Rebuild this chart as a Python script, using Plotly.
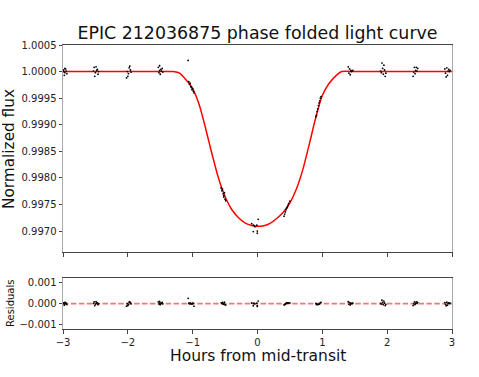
import plotly.graph_objects as go

# ---- data ----
time_h = [
    -2.99, -2.97, -2.96, -2.98, -2.95, -2.97, -2.94, -2.99,
    -2.52, -2.49, -2.47, -2.53, -2.50, -2.46, -2.51, -2.48, -2.45,
    -2.02, -2.00, -1.98, -1.96, -2.01, -1.99, -1.97, -1.95,
    -1.53, -1.51, -1.49, -1.47, -1.52, -1.50, -1.48, -1.46, -1.51,
    -1.07, -1.06, -1.05, -1.04, -1.03, -1.02, -1.01, -0.99, -0.98, -1.00,
    -0.56, -0.55, -0.54, -0.53, -0.52, -0.51, -0.50, -0.49, -0.52,
    -0.09, -0.065, -0.04, -0.01, -0.003, -0.065, -0.003, 0.01, -0.05,
    0.41, 0.42, 0.43, 0.44, 0.45, 0.46, 0.47, 0.48, 0.50,
    0.90, 0.91, 0.92, 0.93, 0.94, 0.95, 0.96, 0.97, 0.98,
    1.40, 1.42, 1.44, 1.46, 1.43, 1.45, 1.47, 1.41,
    1.92, 1.95, 1.93, 1.96, 1.91, 1.94, 1.97, 1.90, 1.98,
    2.42, 2.45, 2.47, 2.44, 2.41, 2.43, 2.40, 2.46,
    2.89, 2.92, 2.95, 2.97, 2.90, 2.93, 2.91, 2.96, 2.94,
]
flux = [
    1.00003, 0.99998, 1.00005, 0.99993, 1.00001, 1.00006, 0.99996, 1.00000,
    1.00008, 1.00009, 1.00004, 1.00001, 0.99998, 0.99995, 0.99991, 1.00002, 1.00000,
    0.99988, 0.99991, 1.00007, 1.00003, 1.00000, 0.99996, 1.00010, 0.99999,
    1.00008, 1.00011, 1.00004, 1.00006, 0.99998, 0.99995, 1.00001, 0.99999, 1.00002,
    1.00021, 0.99981, 0.99976, 0.99978, 0.99972, 0.99970, 0.99966, 0.99963, 0.99960, 0.99968,
    0.99781, 0.99776, 0.99779, 0.99770, 0.99767, 0.99772, 0.99760, 0.99757, 0.99764,
    0.99714, 0.99711, 0.99708, 0.99711, 0.99700, 0.99699, 0.99696, 0.99722, 0.99710,
    0.99728, 0.99732, 0.99736, 0.99740, 0.99743, 0.99745, 0.99748, 0.99752, 0.99756,
    0.99915, 0.99918, 0.99925, 0.99930, 0.99936, 0.99941, 0.99945, 0.99950, 0.99953,
    1.00009, 1.00005, 1.00002, 1.00001, 0.99994, 1.00000, 1.00002, 0.99997,
    1.00016, 1.00012, 1.00006, 1.00003, 0.99998, 0.99995, 0.99991, 1.00001, 0.99997,
    1.00008, 1.00008, 1.00006, 1.00002, 0.99999, 0.99996, 0.99991, 1.00001,
    1.00005, 1.00007, 1.00004, 1.00002, 0.99997, 0.99993, 0.99990, 1.00000, 1.00001,
]
residuals = [
    0.00003, -0.00002, 0.00005, -0.00007, 0.00001, 0.00006, -0.00004, 0.00000,
    0.00008, 0.00009, 0.00004, 0.00001, -0.00002, -0.00005, -0.00009, 0.00002, 0.00000,
    -0.00012, -0.00009, 0.00007, 0.00003, 0.00000, -0.00004, 0.00010, -0.00001,
    0.00008, 0.00011, 0.00004, 0.00006, -0.00002, -0.00005, 0.00001, -0.00001, 0.00002,
    0.00025, 0.00002, -0.00001, 0.00003, 0.00000, 0.00000, -0.00002, 0.00001, -0.00012, 0.00002,
    0.00004, 0.00001, 0.00006, -0.00002, 0.00000, 0.00007, -0.00005, -0.00006, -0.00003,
    0.00003, 0.00001, -0.00001, 0.00002, -0.00009, -0.00010, -0.00013, 0.00012, 0.00001,
    -0.00006, -0.00004, -0.00002, 0.00001, 0.00003, 0.00002, 0.00003, 0.00004, 0.00003,
    0.00001, -0.00004, -0.00003, -0.00004, -0.00003, -0.00002, 0.00001, 0.00005, 0.00006,
    0.00009, 0.00005, 0.00002, 0.00001, -0.00006, 0.00000, 0.00002, -0.00003,
    0.00016, 0.00012, 0.00006, 0.00003, -0.00002, -0.00005, -0.00009, 0.00001, -0.00003,
    0.00008, 0.00008, 0.00006, 0.00002, -0.00001, -0.00004, -0.00009, 0.00001,
    0.00005, 0.00007, 0.00004, 0.00002, -0.00003, -0.00007, -0.00010, 0.00000, 0.00001,
]

# transit model
model_time = [-3.0, -2.0, -1.5, -1.3, -1.2, -1.1, -1.0, -0.9, -0.8, -0.7, -0.6, -0.5,
              -0.4, -0.3, -0.2, -0.1, 0.0, 0.1, 0.2, 0.3, 0.4, 0.5, 0.6, 0.7,
              0.8, 0.9, 1.0, 1.1, 1.2, 1.3, 1.5, 2.0, 3.0]
model_flux = [1.0, 1.0, 1.0, 1.0, 0.99997, 0.99984, 0.99968, 0.99938, 0.99893, 0.99844,
              0.99799, 0.99765, 0.99741, 0.99726, 0.99716, 0.99711, 0.99709, 0.99710,
              0.99715, 0.99724, 0.99736, 0.99753, 0.99779, 0.99816, 0.99864, 0.99914,
              0.99955, 0.99977, 0.99991, 1.0, 1.0, 1.0, 1.0]

zero_line_x = [-3, 3]
zero_line_y = [0, 0]

x_ticks = [-3, -2, -1, 0, 1, 2, 3]
flux_ticks = [0.9970, 0.9975, 0.9980, 0.9985, 0.9990, 0.9995, 1.0000, 1.0005]
resid_ticks = [-0.001, 0.0, 0.001]

W, H = 479, 377
L, T = 63, 45
R = W - 452
B = H - 329
plot_h = H - T - B
pw = W - L - R


def py(ref_y):
    return (H - B - ref_y) / plot_h


def px(ref_x):
    return (ref_x - L) / pw


top_dom = [py(252.3), 1.0]
bot_dom = [0.0, py(278.3)]

FONT = "DejaVu Sans"
fig = go.Figure()

fig.add_trace(go.Scatter(x=model_time, y=model_flux, mode="lines",
                         line=dict(color="red", width=1.5, shape="spline", smoothing=0.6),
                         xaxis="x", yaxis="y", hoverinfo="skip"))
fig.add_trace(go.Scatter(x=time_h, y=flux, mode="markers",
                         marker=dict(color="black", size=1.8),
                         xaxis="x", yaxis="y"))
fig.add_trace(go.Scatter(x=zero_line_x, y=zero_line_y, mode="lines",
                         line=dict(color="rgba(255,0,0,0.55)", width=1.7, dash="5.5px,2.4px"),
                         xaxis="x2", yaxis="y2"))
fig.add_trace(go.Scatter(x=time_h, y=residuals, mode="markers",
                         marker=dict(color="black", size=1.8),
                         xaxis="x2", yaxis="y2"))

common_x = dict(range=[-3, 3], tickvals=x_ticks, showgrid=False, zeroline=False,
                showline=True, linecolor="#444", linewidth=1, mirror=True,
                ticks="outside", ticklen=3.5, tickcolor="#444",
                tickfont=dict(family=FONT, size=10, color="#222"))
common_y = dict(showgrid=False, zeroline=False, showline=True, linecolor="#aaaaaa",
                linewidth=1, mirror=True, ticks="outside", ticklen=3.5, tickcolor="#444",
                tickfont=dict(family=FONT, size=10, color="#222"))

fig.update_layout(
    width=W, height=H, margin=dict(l=L, r=R, t=T, b=B),
    paper_bgcolor="white", plot_bgcolor="white", showlegend=False,
    font=dict(family=FONT, color="#222"),
    title=dict(text="EPIC 212036875 phase folded light curve",
               font=dict(family=FONT, size=17.4, color="#111"),
               x=(L + pw / 2) / W, xanchor="center",
               y=1 - 33 / H, yanchor="middle", yref="container"),
    xaxis=dict(common_x, domain=[0, 1], anchor="y", showticklabels=False),
    yaxis=dict(common_y, domain=top_dom, anchor="x", range=[0.99660, 1.0005],
               tickvals=flux_ticks, tickformat=".4f"),
    xaxis2=dict(common_x, domain=[0, 1], anchor="y2"),
    yaxis2=dict(common_y, domain=bot_dom, anchor="x2", range=[-0.0012, 0.0012],
                tickvals=resid_ticks, tickformat=".3f"),
)

fig.add_annotation(text="Normalized flux", xref="paper", yref="paper",
                   x=px(9), y=py(149), textangle=-90,
                   showarrow=False, xanchor="center", yanchor="middle",
                   font=dict(family=FONT, size=15.3, color="#111"))
fig.add_annotation(text="Residuals", xref="paper", yref="paper",
                   x=px(10), y=py(304), textangle=-90,
                   showarrow=False, xanchor="center", yanchor="middle",
                   font=dict(family=FONT, size=10, color="#111"))
fig.add_annotation(text="Hours from mid-transit", xref="paper", yref="paper",
                   x=0.5, y=py(356),
                   showarrow=False, xanchor="center", yanchor="middle",
                   font=dict(family=FONT, size=15.5, color="#111"))

# remove the browser's default 8px page margin so the figure fills the window
fig.write_html("out.html",
               config={"displayModeBar": False, "staticPlot": True},
               post_script="document.body.style.margin='0';document.body.style.overflow='hidden';")
